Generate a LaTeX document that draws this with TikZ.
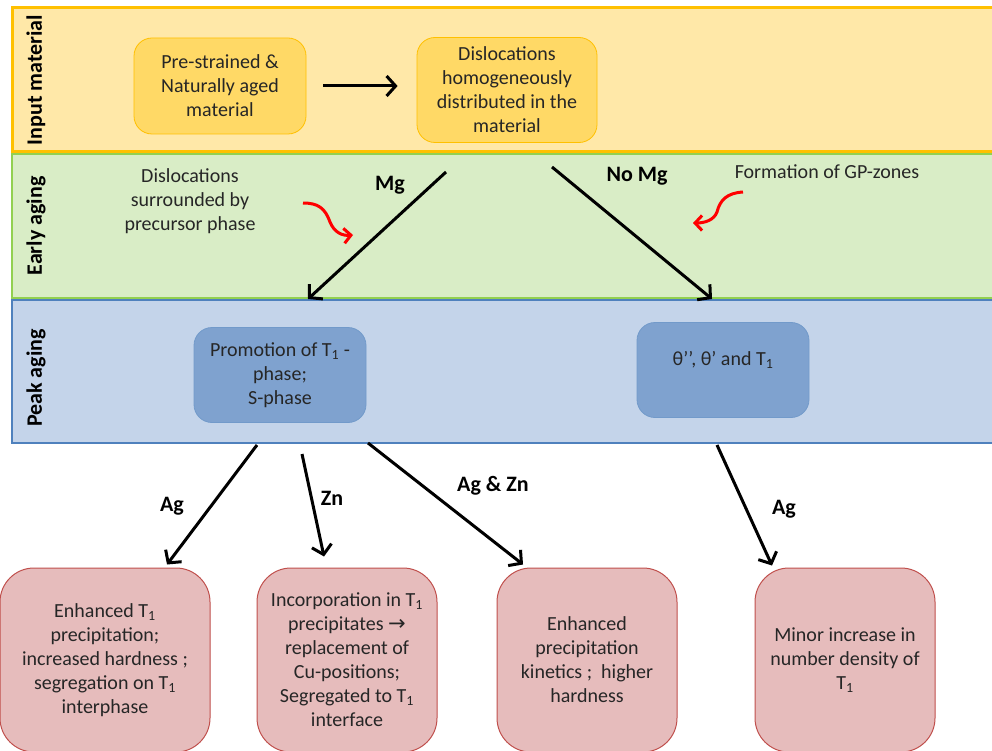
\documentclass[tikz,border=0pt]{standalone}
\usepackage{fontspec}
\setmainfont{Carlito}
\newfontfamily\symfont{DejaVu Sans}
\usetikzlibrary{positioning}
\usetikzlibrary{arrows.meta}

\definecolor{bandOrange}{HTML}{FFE8A8}
\definecolor{lineOrange}{HTML}{FFC000}
\definecolor{boxOrange}{HTML}{FFD966}
\definecolor{bandGreen}{HTML}{D9EDC6}
\definecolor{lineGreen}{HTML}{92D050}
\definecolor{bandBlue}{HTML}{C4D4EA}
\definecolor{lineBlue}{HTML}{4F81BD}
\definecolor{boxBlue}{HTML}{7FA2CF}
\definecolor{boxRed}{HTML}{E6BCBC}
\definecolor{lineRed}{HTML}{C0504D}

\tikzset{
  txt/.style={font=\fontsize{20}{24}\selectfont, align=center, inner sep=0pt, text=black!85},
  lbl/.style={font=\fontsize{22}{26}\selectfont\bfseries, inner sep=0pt},
  bandlbl/.style={lbl, rotate=90},
  inputbox/.style={txt, draw=lineOrange, fill=boxOrange, line width=0.8pt,
    rounded corners=18pt, minimum width=172pt},
  peakbox/.style={txt, draw=lineBlue!80, fill=boxBlue, line width=0.8pt,
    rounded corners=18pt, minimum width=172pt, minimum height=95pt},
  resultbox/.style={txt, draw=lineRed, fill=boxRed, line width=1pt,
    rounded corners=34pt, minimum width=180pt, minimum height=184pt},
  arr/.style={line width=3pt, -{Straight Barb[length=9pt,width=20pt]}},
  curlyarr/.style={red, line width=3pt, -{Straight Barb[length=7pt,width=15pt]}}
}
\newcommand{\Tone}{T\textsubscript{1}}

\begin{document}
\begin{tikzpicture}[x=1pt, y=-1pt, node distance=240pt, on grid]
\clip (0,0) rectangle (992,751);
\fill[white] (0,0) rectangle (992,751);

% the three stages
\draw[fill=bandOrange, draw=lineOrange, line width=3pt] (12,8) rectangle (1010,152);
\draw[fill=bandGreen, draw=lineGreen, line width=2.5pt] (12,154) rectangle (1010,298);
\draw[fill=bandBlue, draw=lineBlue, line width=2.5pt] (12,300) rectangle (1010,443);

\node [bandlbl] (l_in) at (36,80) {Input material};
\node [bandlbl] (l_early) at (36,226) {Early aging};
\node [bandlbl] (l_peak) at (36,378) {Peak aging};

% input material
\node [inputbox, minimum height=96pt] (pre) at (220,86) {Pre-strained \&\\Naturally aged\\material};
\node [inputbox, minimum width=180pt, minimum height=105pt, right=287pt of pre, yshift=-4pt] (disl)
  {Dislocations\\homogeneously\\distributed in the\\material};

% early aging notes
\node [txt] (n_prec) at (190,201) {Dislocations\\surrounded by\\precursor phase};
\node [txt] (n_gp) at (827,172) {Formation of GP-zones};
\coordinate (c_prec) at (303,203);
\coordinate (t_prec) at (353,235);
\coordinate (c_gp) at (743,192);
\coordinate (t_gp) at (693,223);

% peak aging
\node [peakbox] (promo) at (280,375) {Promotion of \Tone{} -\\phase;\\S-phase};
\node [peakbox, right=443pt of promo, yshift=5pt] (theta) {θ’’, θ’ and \Tone\\\mbox{}};

% results
\node [resultbox, minimum width=210pt] (r_ag) at (105,660)
  {Enhanced \Tone\\precipitation;\\increased hardness ;\\segregation on \Tone\\interphase};
\node [resultbox, right=242pt of r_ag] (r_zn)
  {Incorporation in \Tone\\precipitates {\symfont\fontsize{21}{24}\selectfont →}\\replacement of\\Cu-positions;\\Segregated to \Tone\\interface};
\node [resultbox] (r_agzn) [right=of r_zn]
  {Enhanced\\precipitation\\kinetics ;\ \ higher\\hardness};
\node [resultbox, right=258pt of r_agzn] (r_min)
  {Minor increase in\\number density of\\\Tone};

% arrow ends
\coordinate (mg_s) at (446,172);
\coordinate (mg_e) at (308,299);
\coordinate (nomg_s) at (552,167);
\coordinate (nomg_e) at (712,299);
\coordinate (ag_s) at (257,445);
\coordinate (zn_s) at (302,454);
\coordinate (agzn_s) at (368,443);
\coordinate (ag2_s) at (717,445);

\draw [arr] ([xshift=17pt]pre.east) -- ([xshift=-19pt]disl.west |- pre.east);
\draw [arr] (mg_s) -- (mg_e);
\draw [arr] (nomg_s) -- (nomg_e);
\draw [arr] (ag_s) -- ([xshift=62pt, yshift=3pt]r_ag.north);
\draw [arr] (zn_s) -- ([xshift=-23pt, yshift=11pt]r_zn.north);
\draw [arr] (agzn_s) -- ([xshift=-64pt, yshift=3pt]r_agzn.north);
\draw [arr] (ag2_s) -- ([xshift=-73pt, yshift=2pt]r_min.north);

\draw [curlyarr] (c_prec) .. controls (318,203) and (325,208) .. (330,222)
  .. controls (334,232) and (342,236) .. (t_prec);
\draw [curlyarr] (c_gp) .. controls (727,193) and (720,200) .. (717,212)
  .. controls (714,220) and (705,223) .. (t_gp);

\node [lbl] (l_mg) at (390,185) {Mg};
\node [lbl] (l_nomg) at (637,176) {No Mg};
\node [lbl] (l_ag) at (172,506) {Ag};
\node [lbl] (l_zn) at (332,498) {Zn};
\node [lbl] (l_agzn) at (493,486) {Ag \& Zn};
\node [lbl] (l_ag2) at (784,509) {Ag};

\end{tikzpicture}
\end{document}
